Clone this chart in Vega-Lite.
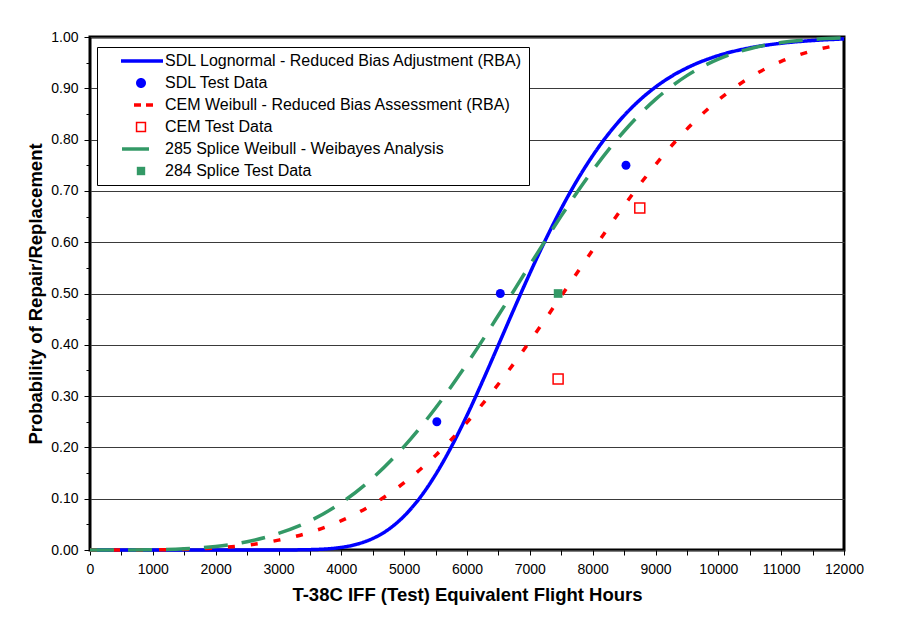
{
  "$schema": "https://vega.github.io/schema/vega-lite/v6.json",
  "width": 754,
  "height": 513,
  "autosize": {"type": "none"},
  "padding": {"left": 90, "top": 37, "right": 58, "bottom": 73},
  "background": "white",
  "config": {
    "view": {"stroke": "black", "strokeWidth": 3},
    "font": "Liberation Sans",
    "axis": {
      "labelFont": "Liberation Sans",
      "labelFontSize": 14,
      "labelColor": "black",
      "titleFont": "Liberation Sans",
      "titleFontSize": 18.5,
      "titleFontWeight": "bold",
      "titleColor": "black",
      "tickColor": "black",
      "tickWidth": 1,
      "domain": false
    }
  },
  "datasets": {
    "curves": [
      {"series": "SDL Lognormal - Reduced Bias Adjustment (RBA)", "hours": 0, "p": 0},
      {"series": "SDL Lognormal - Reduced Bias Adjustment (RBA)", "hours": 500, "p": 0},
      {"series": "SDL Lognormal - Reduced Bias Adjustment (RBA)", "hours": 1000, "p": 0},
      {"series": "SDL Lognormal - Reduced Bias Adjustment (RBA)", "hours": 1500, "p": 0},
      {"series": "SDL Lognormal - Reduced Bias Adjustment (RBA)", "hours": 2000, "p": 0},
      {"series": "SDL Lognormal - Reduced Bias Adjustment (RBA)", "hours": 2500, "p": 0},
      {"series": "SDL Lognormal - Reduced Bias Adjustment (RBA)", "hours": 3000, "p": 0},
      {"series": "SDL Lognormal - Reduced Bias Adjustment (RBA)", "hours": 3500, "p": 0.0007},
      {"series": "SDL Lognormal - Reduced Bias Adjustment (RBA)", "hours": 4000, "p": 0.0051},
      {"series": "SDL Lognormal - Reduced Bias Adjustment (RBA)", "hours": 4250, "p": 0.0114},
      {"series": "SDL Lognormal - Reduced Bias Adjustment (RBA)", "hours": 4500, "p": 0.0224},
      {"series": "SDL Lognormal - Reduced Bias Adjustment (RBA)", "hours": 4750, "p": 0.0401},
      {"series": "SDL Lognormal - Reduced Bias Adjustment (RBA)", "hours": 5000, "p": 0.0663},
      {"series": "SDL Lognormal - Reduced Bias Adjustment (RBA)", "hours": 5250, "p": 0.1017},
      {"series": "SDL Lognormal - Reduced Bias Adjustment (RBA)", "hours": 5500, "p": 0.1469},
      {"series": "SDL Lognormal - Reduced Bias Adjustment (RBA)", "hours": 5750, "p": 0.2010},
      {"series": "SDL Lognormal - Reduced Bias Adjustment (RBA)", "hours": 6000, "p": 0.2625},
      {"series": "SDL Lognormal - Reduced Bias Adjustment (RBA)", "hours": 6250, "p": 0.3296},
      {"series": "SDL Lognormal - Reduced Bias Adjustment (RBA)", "hours": 6500, "p": 0.3997},
      {"series": "SDL Lognormal - Reduced Bias Adjustment (RBA)", "hours": 6750, "p": 0.4703},
      {"series": "SDL Lognormal - Reduced Bias Adjustment (RBA)", "hours": 7000, "p": 0.5393},
      {"series": "SDL Lognormal - Reduced Bias Adjustment (RBA)", "hours": 7250, "p": 0.6048},
      {"series": "SDL Lognormal - Reduced Bias Adjustment (RBA)", "hours": 7500, "p": 0.6654},
      {"series": "SDL Lognormal - Reduced Bias Adjustment (RBA)", "hours": 7750, "p": 0.7202},
      {"series": "SDL Lognormal - Reduced Bias Adjustment (RBA)", "hours": 8000, "p": 0.7686},
      {"series": "SDL Lognormal - Reduced Bias Adjustment (RBA)", "hours": 8250, "p": 0.8108},
      {"series": "SDL Lognormal - Reduced Bias Adjustment (RBA)", "hours": 8500, "p": 0.8468},
      {"series": "SDL Lognormal - Reduced Bias Adjustment (RBA)", "hours": 8750, "p": 0.8772},
      {"series": "SDL Lognormal - Reduced Bias Adjustment (RBA)", "hours": 9000, "p": 0.9024},
      {"series": "SDL Lognormal - Reduced Bias Adjustment (RBA)", "hours": 9250, "p": 0.9231},
      {"series": "SDL Lognormal - Reduced Bias Adjustment (RBA)", "hours": 9500, "p": 0.9397},
      {"series": "SDL Lognormal - Reduced Bias Adjustment (RBA)", "hours": 10000, "p": 0.9638},
      {"series": "SDL Lognormal - Reduced Bias Adjustment (RBA)", "hours": 10500, "p": 0.9788},
      {"series": "SDL Lognormal - Reduced Bias Adjustment (RBA)", "hours": 11000, "p": 0.9878},
      {"series": "SDL Lognormal - Reduced Bias Adjustment (RBA)", "hours": 11500, "p": 0.9931},
      {"series": "SDL Lognormal - Reduced Bias Adjustment (RBA)", "hours": 12000, "p": 0.9962},
      {"series": "CEM Weibull - Reduced Bias Assessment (RBA)", "hours": 0, "p": 0},
      {"series": "CEM Weibull - Reduced Bias Assessment (RBA)", "hours": 500, "p": 0},
      {"series": "CEM Weibull - Reduced Bias Assessment (RBA)", "hours": 1000, "p": 0.0003},
      {"series": "CEM Weibull - Reduced Bias Assessment (RBA)", "hours": 1500, "p": 0.0013},
      {"series": "CEM Weibull - Reduced Bias Assessment (RBA)", "hours": 2000, "p": 0.0039},
      {"series": "CEM Weibull - Reduced Bias Assessment (RBA)", "hours": 2500, "p": 0.0094},
      {"series": "CEM Weibull - Reduced Bias Assessment (RBA)", "hours": 3000, "p": 0.0192},
      {"series": "CEM Weibull - Reduced Bias Assessment (RBA)", "hours": 3500, "p": 0.0343},
      {"series": "CEM Weibull - Reduced Bias Assessment (RBA)", "hours": 4000, "p": 0.0571},
      {"series": "CEM Weibull - Reduced Bias Assessment (RBA)", "hours": 4500, "p": 0.0889},
      {"series": "CEM Weibull - Reduced Bias Assessment (RBA)", "hours": 5000, "p": 0.1312},
      {"series": "CEM Weibull - Reduced Bias Assessment (RBA)", "hours": 5500, "p": 0.1844},
      {"series": "CEM Weibull - Reduced Bias Assessment (RBA)", "hours": 6000, "p": 0.2489},
      {"series": "CEM Weibull - Reduced Bias Assessment (RBA)", "hours": 6500, "p": 0.3236},
      {"series": "CEM Weibull - Reduced Bias Assessment (RBA)", "hours": 7000, "p": 0.4067},
      {"series": "CEM Weibull - Reduced Bias Assessment (RBA)", "hours": 7500, "p": 0.4950},
      {"series": "CEM Weibull - Reduced Bias Assessment (RBA)", "hours": 8000, "p": 0.5846},
      {"series": "CEM Weibull - Reduced Bias Assessment (RBA)", "hours": 8500, "p": 0.6714},
      {"series": "CEM Weibull - Reduced Bias Assessment (RBA)", "hours": 9000, "p": 0.7512},
      {"series": "CEM Weibull - Reduced Bias Assessment (RBA)", "hours": 9500, "p": 0.8204},
      {"series": "CEM Weibull - Reduced Bias Assessment (RBA)", "hours": 10000, "p": 0.8772},
      {"series": "CEM Weibull - Reduced Bias Assessment (RBA)", "hours": 10500, "p": 0.9209},
      {"series": "CEM Weibull - Reduced Bias Assessment (RBA)", "hours": 11000, "p": 0.9523},
      {"series": "CEM Weibull - Reduced Bias Assessment (RBA)", "hours": 11500, "p": 0.9731},
      {"series": "CEM Weibull - Reduced Bias Assessment (RBA)", "hours": 12000, "p": 0.9860},
      {"series": "285 Splice Weibull - Weibayes Analysis", "hours": 0, "p": 0},
      {"series": "285 Splice Weibull - Weibayes Analysis", "hours": 500, "p": 0},
      {"series": "285 Splice Weibull - Weibayes Analysis", "hours": 1000, "p": 0.0005},
      {"series": "285 Splice Weibull - Weibayes Analysis", "hours": 1500, "p": 0.0023},
      {"series": "285 Splice Weibull - Weibayes Analysis", "hours": 2000, "p": 0.0069},
      {"series": "285 Splice Weibull - Weibayes Analysis", "hours": 2500, "p": 0.0161},
      {"series": "285 Splice Weibull - Weibayes Analysis", "hours": 3000, "p": 0.0324},
      {"series": "285 Splice Weibull - Weibayes Analysis", "hours": 3500, "p": 0.0566},
      {"series": "285 Splice Weibull - Weibayes Analysis", "hours": 4000, "p": 0.0921},
      {"series": "285 Splice Weibull - Weibayes Analysis", "hours": 4500, "p": 0.1403},
      {"series": "285 Splice Weibull - Weibayes Analysis", "hours": 5000, "p": 0.2020},
      {"series": "285 Splice Weibull - Weibayes Analysis", "hours": 5500, "p": 0.2768},
      {"series": "285 Splice Weibull - Weibayes Analysis", "hours": 6000, "p": 0.3630},
      {"series": "285 Splice Weibull - Weibayes Analysis", "hours": 6500, "p": 0.4575},
      {"series": "285 Splice Weibull - Weibayes Analysis", "hours": 7000, "p": 0.5554},
      {"series": "285 Splice Weibull - Weibayes Analysis", "hours": 7500, "p": 0.6513},
      {"series": "285 Splice Weibull - Weibayes Analysis", "hours": 8000, "p": 0.7398},
      {"series": "285 Splice Weibull - Weibayes Analysis", "hours": 8500, "p": 0.8163},
      {"series": "285 Splice Weibull - Weibayes Analysis", "hours": 9000, "p": 0.8783},
      {"series": "285 Splice Weibull - Weibayes Analysis", "hours": 9500, "p": 0.9247},
      {"series": "285 Splice Weibull - Weibayes Analysis", "hours": 10000, "p": 0.9568},
      {"series": "285 Splice Weibull - Weibayes Analysis", "hours": 10500, "p": 0.9772},
      {"series": "285 Splice Weibull - Weibayes Analysis", "hours": 11000, "p": 0.9891},
      {"series": "285 Splice Weibull - Weibayes Analysis", "hours": 11500, "p": 0.9952},
      {"series": "285 Splice Weibull - Weibayes Analysis", "hours": 12000, "p": 0.9981}
    ],
    "points": [
      {"series": "SDL Test Data", "hours": 5520, "p": 0.25},
      {"series": "SDL Test Data", "hours": 6530, "p": 0.50},
      {"series": "SDL Test Data", "hours": 8530, "p": 0.75},
      {"series": "CEM Test Data", "hours": 7450, "p": 0.3333},
      {"series": "CEM Test Data", "hours": 8750, "p": 0.6667},
      {"series": "284 Splice Test Data", "hours": 7450, "p": 0.50}
    ]
  },
  "encoding": {
    "x": {
      "field": "hours",
      "type": "quantitative",
      "scale": {"domain": [0, 12000], "nice": false},
      "axis": {
        "title": "T-38C IFF (Test) Equivalent Flight Hours",
        "values": [0, 500, 1000, 1500, 2000, 2500, 3000, 3500, 4000, 4500, 5000, 5500, 6000, 6500, 7000, 7500, 8000, 8500, 9000, 9500, 10000, 10500, 11000, 11500, 12000],
        "format": "d",
        "labelExpr": "datum.value % 1000 == 0 ? datum.label : ''",
        "labelFlush": false,
        "labelOverlap": false,
        "grid": false,
        "tickSize": 5,
        "labelPadding": 7,
        "titlePadding": 9
      }
    },
    "y": {
      "field": "p",
      "type": "quantitative",
      "scale": {"domain": [0, 1], "nice": false},
      "axis": {
        "title": "Probability of Repair/Replacement",
        "values": [0, 0.05, 0.1, 0.15, 0.2, 0.25, 0.3, 0.35, 0.4, 0.45, 0.5, 0.55, 0.6, 0.65, 0.7, 0.75, 0.8, 0.85, 0.9, 0.95, 1],
        "labelExpr": "abs(datum.value * 10 - round(datum.value * 10)) > 0.01 ? '' : format(datum.value, '.2f')",
        "labelOverlap": false,
        "labelFlush": false,
        "grid": true,
        "gridColor": "#3a3a3a",
        "gridWidth": 1,
        "gridOpacity": {"condition": {"test": "abs(datum.value * 10 - round(datum.value * 10)) > 0.01", "value": 0}, "value": 1},
        "tickSize": {"condition": {"test": "abs(datum.value * 10 - round(datum.value * 10)) > 0.01", "value": 4}, "value": 6},
        "labelPadding": 6,
        "titlePadding": 5
      }
    },
    "color": {
      "field": "series",
      "type": "nominal",
      "scale": {
        "domain": [
          "SDL Lognormal - Reduced Bias Adjustment (RBA)",
          "SDL Test Data",
          "CEM Weibull - Reduced Bias Assessment (RBA)",
          "CEM Test Data",
          "285 Splice Weibull - Weibayes Analysis",
          "284 Splice Test Data"
        ],
        "range": ["#0000FF", "#0000FF", "#FF0000", "#FF0000", "#339966", "#339966"]
      },
      "legend": {
        "title": null,
        "orient": "none",
        "legendX": 7,
        "legendY": 10,
        "strokeColor": "black",
        "fillColor": "white",
        "padding": 6,
        "labelFont": "Liberation Sans",
        "labelFontSize": 16,
        "labelColor": "black",
        "labelLimit": 600,
        "symbolSize": 144,
        "symbolStrokeWidth": 3.5,
        "symbolOffset": 30,
        "labelOffset": 16,
        "rowPadding": 6,
        "encode": {
          "symbols": {
            "update": {
              "shape": {"signal": "['M-3.333,0H3.667', 'M-0.833,0A0.833,0.833,0,1,1,0.833,0A0.833,0.833,0,1,1,-0.833,0Z', 'M-1.167,0H0M0.833,0H2.0', 'M-0.867,-0.867H0.867V0.867H-0.867ZM-0.617,-0.617V0.617H0.617V-0.617Z', 'M-3.167,0H1.333', 'M-0.7,-0.7H0.7V0.7H-0.7Z'][datum.index]"},
              "fill": {"signal": "['transparent','#0000FF','transparent','#FF0000','transparent','#339966'][datum.index]"},
              "fillOpacity": {"signal": "[0,1,0,1,0,1][datum.index]"},
              "stroke": {"signal": "['#0000FF','transparent','#FF0000','transparent','#339966','transparent'][datum.index]"},
              "strokeOpacity": {"signal": "[1,0,1,0,1,0][datum.index]"},
              "strokeDash": {"value": [1, 0]},
              "opacity": {"value": 1}
            }
          }
        }
      }
    }
  },
  "layer": [
    {
      "data": {"name": "curves"},
      "mark": {"type": "line", "strokeWidth": 3.5, "interpolate": "monotone"},
      "encoding": {
        "strokeDash": {
          "field": "series",
          "type": "nominal",
          "scale": {
            "domain": [
              "SDL Lognormal - Reduced Bias Adjustment (RBA)",
              "CEM Weibull - Reduced Bias Assessment (RBA)",
              "285 Splice Weibull - Weibayes Analysis"
            ],
            "range": [[1, 0], [7, 16], [24, 14]]
          },
          "legend": null
        }
      }
    },
    {
      "data": {"name": "points"},
      "transform": [{"filter": "datum.series == 'SDL Test Data'"}],
      "mark": {"type": "point", "shape": "circle", "filled": true, "size": 80, "opacity": 1}
    },
    {
      "data": {"name": "points"},
      "transform": [{"filter": "datum.series == 'CEM Test Data'"}],
      "mark": {"type": "point", "shape": "square", "filled": false, "fill": "white", "fillOpacity": 1, "strokeWidth": 1.5, "size": 100, "opacity": 1}
    },
    {
      "data": {"name": "points"},
      "transform": [{"filter": "datum.series == '284 Splice Test Data'"}],
      "mark": {"type": "point", "shape": "square", "filled": true, "size": 75, "opacity": 1}
    }
  ]
}
